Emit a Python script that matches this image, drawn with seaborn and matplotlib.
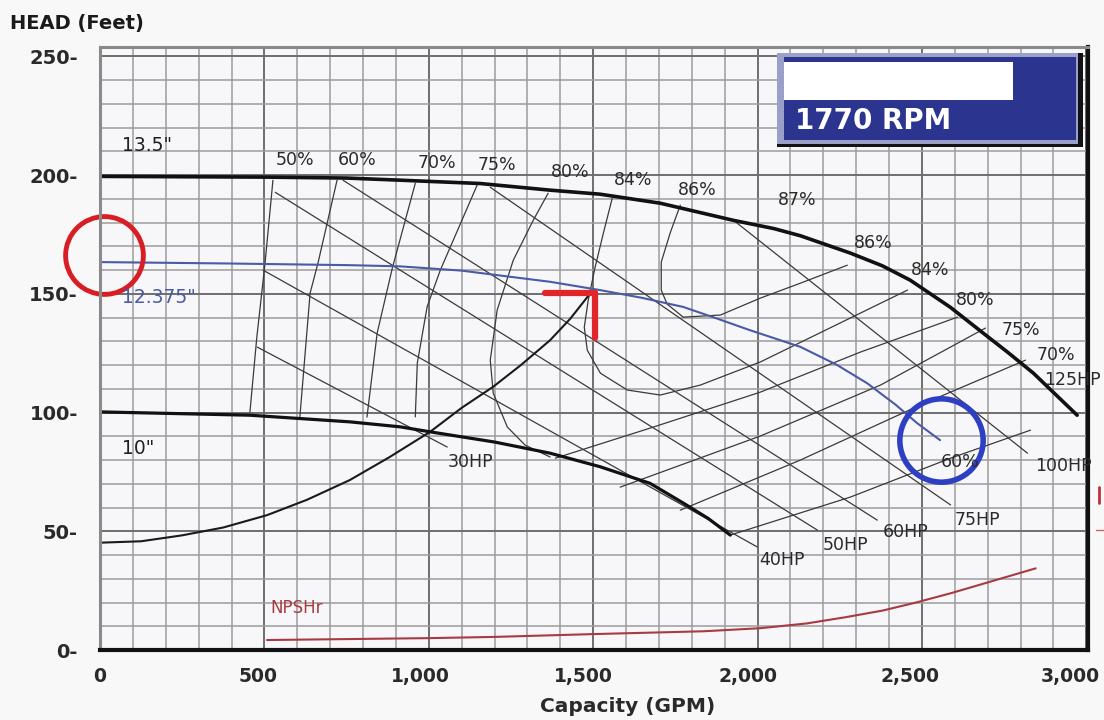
import matplotlib
matplotlib.use("Agg")
import matplotlib.pyplot as plt
import matplotlib.transforms as mtransforms
import seaborn as sns
from matplotlib.patches import Rectangle
from matplotlib.lines import Line2D
from matplotlib.ticker import FixedLocator, MultipleLocator

sns.set_theme(style="white")
plt.rcParams['font.family'] = ['DejaVu Sans']

# ---- impeller head curves (capacity GPM, head ft) ----
imp135_q = [0, 500, 750, 913, 1156, 1369, 1521, 1704, 1926, 2050, 2130, 2282, 2380, 2464, 2586, 2686, 2760, 2839, 2972]
imp135_h = [199.5, 199.2, 198.8, 197.9, 196.5, 193.7, 192.0, 188.2, 181.0, 177.5, 174.5, 167.2, 161.8, 155.8, 144.4, 133.5, 125.5, 116.6, 98.9]

imp12_q = [0, 396, 760, 913, 1100, 1248, 1369, 1521, 1650, 1774, 1877, 1977, 2130, 2240, 2333, 2420, 2485, 2555]
imp12_h = [163.4, 162.8, 162.1, 161.6, 159.8, 157.2, 155.1, 151.6, 148.3, 144.5, 139.6, 134.7, 127.7, 120.2, 112.4, 103.3, 95.6, 88.4]

imp10_q = [0, 456, 760, 913, 1004, 1200, 1369, 1521, 1673, 1774, 1850, 1917]
imp10_h = [100.3, 98.9, 96.1, 94.0, 91.9, 87.6, 82.9, 77.2, 70.2, 61.9, 55.4, 48.4]

# ---- system curve ----
sys_q = [0, 125, 250, 375, 508, 630, 760, 880, 1004, 1100, 1196, 1280, 1369, 1430, 1491]
sys_h = [45.2, 45.8, 48.3, 51.6, 56.8, 63.3, 71.6, 81.2, 91.9, 102.0, 110.9, 120.0, 130.5, 139.5, 150.2]

# ---- NPSH required ----
npsh_q = [508, 1000, 1196, 1500, 1838, 2010, 2150, 2267, 2380, 2482, 2590, 2696, 2846]
npsh_h = [4.2, 5.0, 5.5, 6.7, 7.9, 9.2, 11.2, 13.8, 16.6, 20.0, 24.0, 28.3, 34.4]

# ---- iso-efficiency contours ----
eff50_q = [526, 502, 477, 456]
eff50_h = [197.9, 163.0, 131.8, 100.2]
eff60_q = [721, 663, 639, 608]
eff60_h = [197.9, 163.0, 150.3, 98.3]
eff70_q = [959, 889, 843, 812]
eff70_h = [196.6, 160.8, 133.5, 98.1]
eff75_q = [1147, 1035, 995, 965, 959]
eff75_h = [195.8, 160.0, 144.6, 120.8, 98.2]
eff80_q = [1363, 1318, 1257, 1208, 1187, 1196, 1239, 1293, 1369]
eff80_h = [192.4, 181.1, 164.2, 143.2, 122.1, 108.2, 93.9, 86.3, 81.3]
eff84_q = [1558, 1531, 1506, 1485, 1473, 1482, 1522, 1604, 1704, 1826, 2008, 2456]
eff84_h = [190.3, 175.6, 161.3, 147.4, 136.0, 126.3, 116.6, 109.5, 107.4, 111.6, 121.3, 151.6]
eff86_q = [1765, 1735, 1707, 1707, 1725, 1774, 1887, 2008, 2130, 2273]
eff86_h = [187.4, 176.0, 163.4, 151.6, 145.7, 140.2, 141.1, 148.2, 154.5, 162.1]
eff80r_q = [1385, 1674, 2008, 2313, 2608]
eff80r_h = [80.8, 93.5, 108.6, 125.5, 140.2]
eff75r_q = [1582, 2008, 2374, 2693]
eff75r_h = [68.6, 90.1, 111.6, 135.6]
eff70r_q = [1765, 2130, 2495, 2815]
eff70r_h = [58.9, 80.0, 103.2, 122.1]
eff60r_q = [1917, 2282, 2587, 2830]
eff60r_h = [48.4, 64.4, 80.8, 92.6]

# ---- horsepower lines (start, end) ----
hp30_q, hp30_h = [478, 1056], [127.6, 85.5]
hp40_q, hp40_h = [496, 1999], [160.0, 43.4]
hp50_q, hp50_h = [533, 2182], [192.8, 50.5]
hp60_q, hp60_h = [739, 2364], [197.9, 54.7]
hp75_q, hp75_h = [1187, 2587], [194.9, 61.1]
hp100_q, hp100_h = [1926, 2821], [181.1, 82.9]

# ---- labels ----
eff_text = ["50%", "60%", "70%", "75%", "80%", "84%", "86%", "87%",
            "86%", "84%", "80%", "75%", "70%", "60%"]
eff_text_q = [593, 782, 1025, 1208, 1430, 1622, 1817, 2121, 2352, 2526, 2663, 2800, 2906, 2617]
eff_text_h = [206.3, 206.3, 205.0, 204.2, 201.3, 197.9, 193.7, 189.5, 171.4, 160.0, 147.4, 134.7, 124.2, 79.2]

hp_text = ["30HP", "40HP", "50HP", "60HP", "75HP", "100HP", "125HP"]
hp_text_q = [1126, 2075, 2267, 2450, 2669, 2930, 2958]
hp_text_h = [79.2, 37.9, 44.2, 49.7, 54.7, 77.5, 113.7]

dia_text = ['13.5"', '12.375"', '10"']
dia_text_q = [67, 67, 67]
dia_text_h = [212.6, 148.6, 85.0]

x_ticks = [0, 500, 1000, 1500, 2000, 2500, 3000]
x_tick_labels = ["0", "500", "1,000", "1,500", "2,000", "2,500", "3,000"]
y_ticks = [0, 50, 100, 150, 200, 250]
y_tick_labels = ["0-", "50-", "100-", "150-", "200-", "250-"]

# operating point marker and highlighted points
op_q, op_h = 1505, 150.4
op_left_q, op_low_h = 1354, 131.4
shutoff_q, shutoff_h = 12, 166.3
runout_q, runout_h = 2558, 88.4

fig = plt.figure(figsize=(11.04, 7.2), dpi=100, facecolor="#f8f8f8")
ax = fig.add_axes([100 / 1104, 1 - 650 / 720, 988 / 1104, 603 / 720])
ax.set_facecolor("#f7f7f9")
ax.set_xlim(0, 3005)
ax.set_ylim(0, 254)

# grid
ax.xaxis.set_major_locator(FixedLocator(x_ticks))
ax.xaxis.set_minor_locator(MultipleLocator(100))
ax.yaxis.set_major_locator(FixedLocator(y_ticks))
ax.yaxis.set_minor_locator(MultipleLocator(10))
ax.grid(which="minor", color="#9c9c9c", lw=1.1)
ax.grid(which="major", color="#6e6e6e", lw=1.4)
ax.set_axisbelow(True)

thin = dict(color="#3a3a3a", lw=0.9, sort=False, estimator=None, legend=False)

for q, h in [(eff50_q, eff50_h), (eff60_q, eff60_h), (eff70_q, eff70_h), (eff75_q, eff75_h),
             (eff80_q, eff80_h), (eff84_q, eff84_h), (eff86_q, eff86_h),
             (eff80r_q, eff80r_h), (eff75r_q, eff75r_h), (eff70r_q, eff70r_h), (eff60r_q, eff60r_h),
             (hp30_q, hp30_h), (hp40_q, hp40_h), (hp50_q, hp50_h), (hp60_q, hp60_h),
             (hp75_q, hp75_h), (hp100_q, hp100_h)]:
    sns.lineplot(x=q, y=h, ax=ax, **thin)

sns.lineplot(x=sys_q, y=sys_h, ax=ax, color="#1a1a1a", lw=1.5, sort=False, estimator=None)
sns.lineplot(x=imp135_q, y=imp135_h, ax=ax, color="#111111", lw=2.6, sort=False, estimator=None)
sns.lineplot(x=imp10_q, y=imp10_h, ax=ax, color="#111111", lw=2.3, sort=False, estimator=None)
sns.lineplot(x=imp12_q, y=imp12_h, ax=ax, color="#4a5aa6", lw=1.5, sort=False, estimator=None)
sns.lineplot(x=npsh_q, y=npsh_h, ax=ax, color="#a83a42", lw=1.5, sort=False, estimator=None)

# operating point bracket
ax.plot([op_left_q, op_q], [op_h, op_h], color="#e0262b", lw=4.5, solid_capstyle="round")
ax.plot([op_q, op_q], [op_h, op_low_h], color="#e0262b", lw=4.5, solid_capstyle="round")

# highlight rings
ax.plot([shutoff_q], [shutoff_h], marker="o", ms=56, mfc="none", mec="#d81e24", mew=3.5, clip_on=False)
ax.plot([runout_q], [runout_h], marker="o", ms=60, mfc="none", mec="#2f3fc4", mew=4.0, clip_on=False)

# labels
for t, q, h in zip(eff_text, eff_text_q, eff_text_h):
    ax.text(q, h, t, ha="center", va="center", fontsize=12.5, color="#2a2a2a")
for t, q, h in zip(hp_text, hp_text_q, hp_text_h):
    ax.text(q, h, t, ha="center", va="center", fontsize=12.5, color="#2a2a2a", clip_on=False)
ax.text(dia_text_q[0], dia_text_h[0], dia_text[0], ha="left", va="center", fontsize=13.5, color="#202020")
ax.text(dia_text_q[1], dia_text_h[1], dia_text[1], ha="left", va="center", fontsize=13.5, color="#4a5aa6")
ax.text(dia_text_q[2], dia_text_h[2], dia_text[2], ha="left", va="center", fontsize=13.5, color="#202020")
ax.text(517, 17.7, "NPSHr", ha="left", va="center", fontsize=12, color="#a83a42")

# speed box
ax.add_patch(Rectangle((0.685, 0.834), 0.310, 0.156, transform=ax.transAxes, fc="#111118", ec="none", zorder=5))
ax.add_patch(Rectangle((0.685, 0.839), 0.305, 0.151, transform=ax.transAxes, fc="#9aa0c8", ec="none", zorder=5))
ax.add_patch(Rectangle((0.692, 0.845), 0.296, 0.138, transform=ax.transAxes, fc="#2b3590", ec="none", zorder=5))
ax.add_patch(Rectangle((0.692, 0.912), 0.232, 0.063, transform=ax.transAxes, fc="white", ec="none", zorder=6))
ax.text(0.703, 0.878, "1770 RPM", transform=ax.transAxes, ha="left", va="center",
        fontsize=20, fontweight="bold", color="white", zorder=7)

# axes frame
for side in ["left", "top"]:
    ax.spines[side].set_color("#8a8a8a")
    ax.spines[side].set_linewidth(2.2)
for side in ["right", "bottom"]:
    ax.spines[side].set_color("#111111")
    ax.spines[side].set_linewidth(3.0)

ax.set_xticklabels(x_tick_labels, fontsize=13.5, fontweight="bold", color="#2a2a2a")
ax.set_yticklabels(y_tick_labels, fontsize=14, fontweight="bold", color="#2a2a2a")
ax.tick_params(axis="both", which="both", length=0)
ax.tick_params(axis="x", pad=12)
ax.tick_params(axis="y", pad=16)
# tick labels sit slightly left of their grid lines
shifts = [0, -6, -8, -10, -10, -12, -16]
for lab, dx in zip(ax.get_xticklabels(), shifts):
    lab.set_transform(lab.get_transform() + mtransforms.ScaledTranslation(dx / 100, 0, fig.dpi_scale_trans))

ax.set_xlabel("Capacity (GPM)", fontsize=14.5, fontweight="bold", color="#2a2a2a", labelpad=6)
ax.xaxis.set_label_coords((628 - 100) / 988, -0.078)
ax.set_ylabel("")
fig.text(10 / 1104, 1 - 24 / 720, "HEAD (Feet)", ha="left", va="center",
         fontsize=14, fontweight="bold", color="#1a1a1a")

# red sliver of a neighbouring scale at the right edge
fig.add_artist(Line2D([1099 / 1104, 1099 / 1104], [1 - 503 / 720, 1 - 487 / 720],
                      transform=fig.transFigure, color="#c0303a", lw=2))
fig.add_artist(Line2D([1096 / 1104, 1104 / 1104], [1 - 530 / 720, 1 - 530 / 720],
                      transform=fig.transFigure, color="#d06060", lw=1))

fig.savefig("out.png", dpi=100, facecolor=fig.get_facecolor())
